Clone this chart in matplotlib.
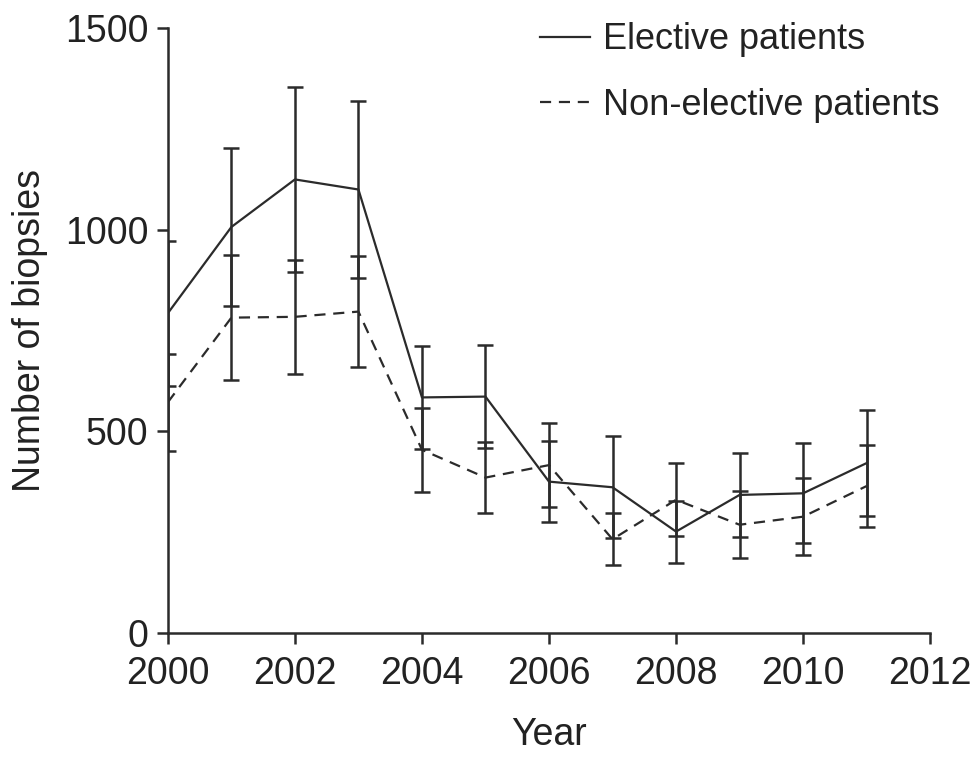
import matplotlib.pyplot as plt
from matplotlib.lines import Line2D
import numpy as np

plt.rcParams['font.family'] = ['Liberation Sans', 'DejaVu Sans']

years = np.arange(2000, 2012)
elective = [793, 1007, 1125, 1100, 584, 586, 375, 361, 251, 342, 346, 421]
elective_err = [180, 197, 230, 220, 128, 127, 100, 126, 77, 104, 124, 132]
nonelective = [572, 782, 784, 797, 454, 385, 416, 232, 330, 268, 288, 364]
nonelective_err = [120, 155, 141, 138, 104, 88, 105, 65, 91, 83, 95, 102]

col = '#2b2b2b'
txt = '#222222'
dash = (0, (5, 3.5))
fs = 27

fig = plt.figure(figsize=(9.76, 7.66), dpi=100)
ax = fig.add_axes([0.172, 0.174, 0.781, 0.789])

ax.errorbar(years, elective, yerr=elective_err, color=col, lw=1.6,
            elinewidth=1.8, capsize=5.5, capthick=1.8)
ax.errorbar(years, nonelective, yerr=nonelective_err, color=col, lw=1.6,
            ls=dash, elinewidth=1.8, capsize=5.5, capthick=1.8)

ax.set_xlim(2000, 2012)
ax.set_ylim(0, 1500)
ax.set_xticks(range(2000, 2013, 2))
ax.set_yticks([0, 500, 1000, 1500])
for s in ['top', 'right']:
    ax.spines[s].set_visible(False)
for s in ['left', 'bottom']:
    ax.spines[s].set_linewidth(1.8)
    ax.spines[s].set_color(col)
ax.tick_params(labelsize=fs, length=8, width=1.8, color=col, labelcolor=txt)
ax.tick_params(axis='x', pad=9)
ax.tick_params(axis='y', pad=6)

ax.set_xlabel('Year', fontsize=fs, color=txt, labelpad=18)
ax.set_ylabel('Number of biopsies', fontsize=fs, color=txt, labelpad=12)

handles = [Line2D([], [], color=col, lw=1.6),
           Line2D([], [], color=col, lw=1.6, ls=dash)]
fig.legend(handles, ['Elective patients', 'Non-elective patients'],
           loc='upper left', bbox_to_anchor=(0.553, 0.971), frameon=False,
           borderpad=0, borderaxespad=0,
           fontsize=26, handlelength=1.4, handletextpad=0.35, labelspacing=0.85,
           labelcolor=txt)

fig.savefig('out.png', dpi=100)
